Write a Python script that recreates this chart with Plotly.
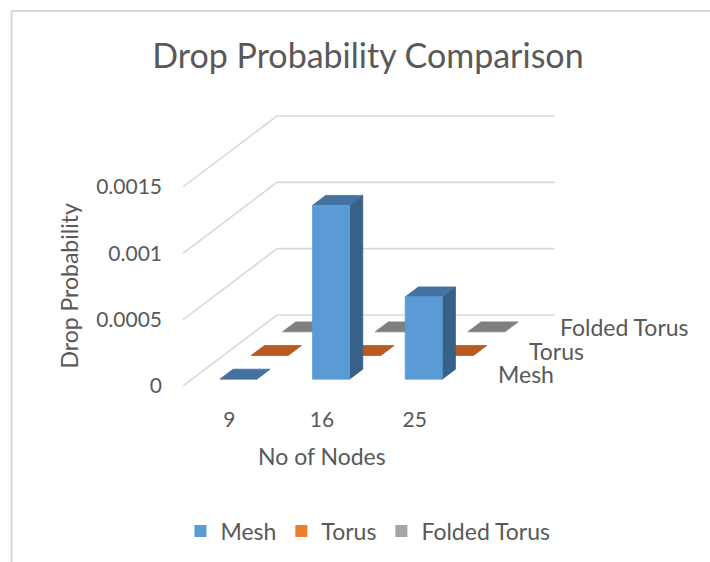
import plotly.graph_objects as go

# ---- data -------------------------------------------------------------
nodes = ["9", "16", "25"]
series = ["Mesh", "Torus", "Folded Torus"]
mesh_drop = [0.0, 0.00131, 0.00062]
torus_drop = [0.0, 0.0, 0.0]
folded_torus_drop = [0.0, 0.0, 0.0]
z_ticks = [0, 0.0005, 0.001, 0.0015]
z_tick_text = ["0", "0.0005", "0.001", "0.0015"]

values = [mesh_drop, torus_drop, folded_torus_drop]

# ---- styling ----------------------------------------------------------
# (front, top, side) face colours for each series
shades = {
    "Mesh": ("#5B9BD5", "#4371A0", "#386189"),
    "Torus": ("#ED7D31", "#B85B21", "#A04E1C"),
    "Folded Torus": ("#A5A5A5", "#7F7F7F", "#6B6B6B"),
}
TEXT = "#595959"
GRID = "#D9D9D9"
FONT = "Lato"
NUM_SIZE = 21
WORD_SIZE = 23

BAR_W = 0.4    # bar width, in category units
BAR_D = 0.14   # bar depth, as a fraction of the full floor depth

# oblique projection: moving through the full depth of the floor shifts a
# point right by DEPTH_DX categories and up by DEPTH_DY value units
DEPTH_DX = 1.014
DEPTH_DY = 0.000535

# pixel scale of the plotting axes
PX_PER_CAT = 92.7
PX_PER_VAL = 132700.0
W, H = 710, 562
X_RANGE = [-0.5, 4.0]
Y_RANGE = [0.0, 0.00205]
LEFT = 183
BOTTOM_PX = 386
plot_w = (X_RANGE[1] - X_RANGE[0]) * PX_PER_CAT
plot_h = (Y_RANGE[1] - Y_RANGE[0]) * PX_PER_VAL
RIGHT = W - LEFT - plot_w
TOP = BOTTOM_PX - plot_h
BOTTOM = H - BOTTOM_PX


def proj(c, v, d):
    """Map (category, value, depth) onto the 2-D plotting axes."""
    return c + d * DEPTH_DX, v + d * DEPTH_DY


def paper_x(px):
    return (px - LEFT) / plot_w


def paper_y(py):
    return (BOTTOM_PX - py) / plot_h


fig = go.Figure()

# ---- walls: value gridlines on the side wall and the back wall ----------
n_cat = len(nodes)
gx, gy = [], []
for v in z_ticks:
    for c, d in [(-0.5, 0), (-0.5, 1), (n_cat - 0.5, 1)]:
        x, y = proj(c, v, d)
        gx.append(x); gy.append(y)
    gx.append(None); gy.append(None)
fig.add_trace(go.Scatter(x=gx, y=gy, mode="lines", line=dict(color=GRID, width=1.6),
                         hoverinfo="skip", showlegend=False))

# ---- bars, back row first so nearer rows cover farther ones -----------
n_ser = len(series)
for s_idx in reversed(range(n_ser)):
    name = series[s_idx]
    front_c, top_c, side_c = shades[name]
    dc = (s_idx + 0.5) / n_ser
    d0, d1 = dc - BAR_D / 2, dc + BAR_D / 2
    faces = {"top": ([], []), "front": ([], []), "side": ([], [])}
    for i, v in enumerate(values[s_idx]):
        c0, c1 = i - BAR_W / 2, i + BAR_W / 2
        polys = {"top": [(c0, v, d0), (c1, v, d0), (c1, v, d1), (c0, v, d1)]}
        if v > 0:
            polys["front"] = [(c0, 0, d0), (c1, 0, d0), (c1, v, d0), (c0, v, d0)]
            polys["side"] = [(c1, 0, d0), (c1, 0, d1), (c1, v, d1), (c1, v, d0)]
        for key, pts in polys.items():
            xs, ys = faces[key]
            for p in pts + [pts[0]]:
                x, y = proj(*p)
                xs.append(x); ys.append(y)
            xs.append(None); ys.append(None)
    for key, col in [("side", side_c), ("top", top_c), ("front", front_c)]:
        xs, ys = faces[key]
        if not xs:
            continue
        fig.add_trace(go.Scatter(x=xs, y=ys, mode="lines", fill="toself",
                                 fillcolor=col, line=dict(color=col, width=0.8),
                                 hoverinfo="skip", showlegend=False))

# ---- legend entries ---------------------------------------------------
for name in series:
    fig.add_trace(go.Bar(x=[None], y=[None], name=name,
                         marker=dict(color=shades[name][0], line=dict(width=0))))

# ---- labels ------------------------------------------------------------
annotations = []
for s_idx, name in enumerate(series):
    x, y = proj(n_cat - 0.5, 0, (s_idx + 0.5) / n_ser)
    annotations.append(dict(x=x, y=y, xref="x", yref="y", text=name, showarrow=False,
                            xanchor="left", yanchor="middle", xshift=19,
                            font=dict(family=FONT, size=WORD_SIZE, color=TEXT)))
annotations.append(dict(x=-0.5, y=(z_ticks[0] + z_ticks[-1]) / 2, xref="x", yref="y",
                        text="Drop Probability", textangle=-90, showarrow=False,
                        xanchor="center", yanchor="middle", xshift=-114,
                        font=dict(family=FONT, size=WORD_SIZE, color=TEXT)))
annotations.append(dict(x=(n_cat - 1) / 2, y=0, xref="x", yref="y",
                        text="No of Nodes", showarrow=False,
                        xanchor="center", yanchor="middle", yshift=-70,
                        font=dict(family=FONT, size=WORD_SIZE, color=TEXT)))

fig.update_layout(
    width=W, height=H,
    paper_bgcolor="white", plot_bgcolor="white",
    margin=dict(l=LEFT, r=RIGHT, t=TOP, b=BOTTOM, pad=0, autoexpand=False),
    title=dict(text="Drop Probability Comparison", x=368 / W, xref="container",
               xanchor="center", y=1 - 56 / H, yref="container", yanchor="middle",
               font=dict(family=FONT, size=34, color=TEXT)),
    xaxis=dict(range=X_RANGE, tickvals=list(range(n_cat)), ticktext=nodes,
               showgrid=False, zeroline=False, showline=False, ticks="",
               ticklabelstandoff=19, fixedrange=True,
               tickfont=dict(family=FONT, size=NUM_SIZE, color=TEXT)),
    yaxis=dict(range=Y_RANGE, tickvals=z_ticks, ticktext=z_tick_text,
               showgrid=False, zeroline=False, showline=False, ticks="",
               ticklabelstandoff=20, fixedrange=True,
               tickfont=dict(family=FONT, size=NUM_SIZE, color=TEXT)),
    showlegend=True,
    legend=dict(orientation="h", x=paper_x(368), xanchor="center",
                y=paper_y(531), yanchor="middle", traceorder="normal",
                font=dict(family=FONT, size=WORD_SIZE, color=TEXT)),
    annotations=annotations,
    shapes=[dict(type="rect", xref="paper", yref="paper",
                 x0=paper_x(11.5), x1=paper_x(W + 10),
                 y0=paper_y(H + 10), y1=paper_y(11),
                 line=dict(color=GRID, width=2), layer="below")],
)

fig.write_html("out.html", config={"displayModeBar": False})
